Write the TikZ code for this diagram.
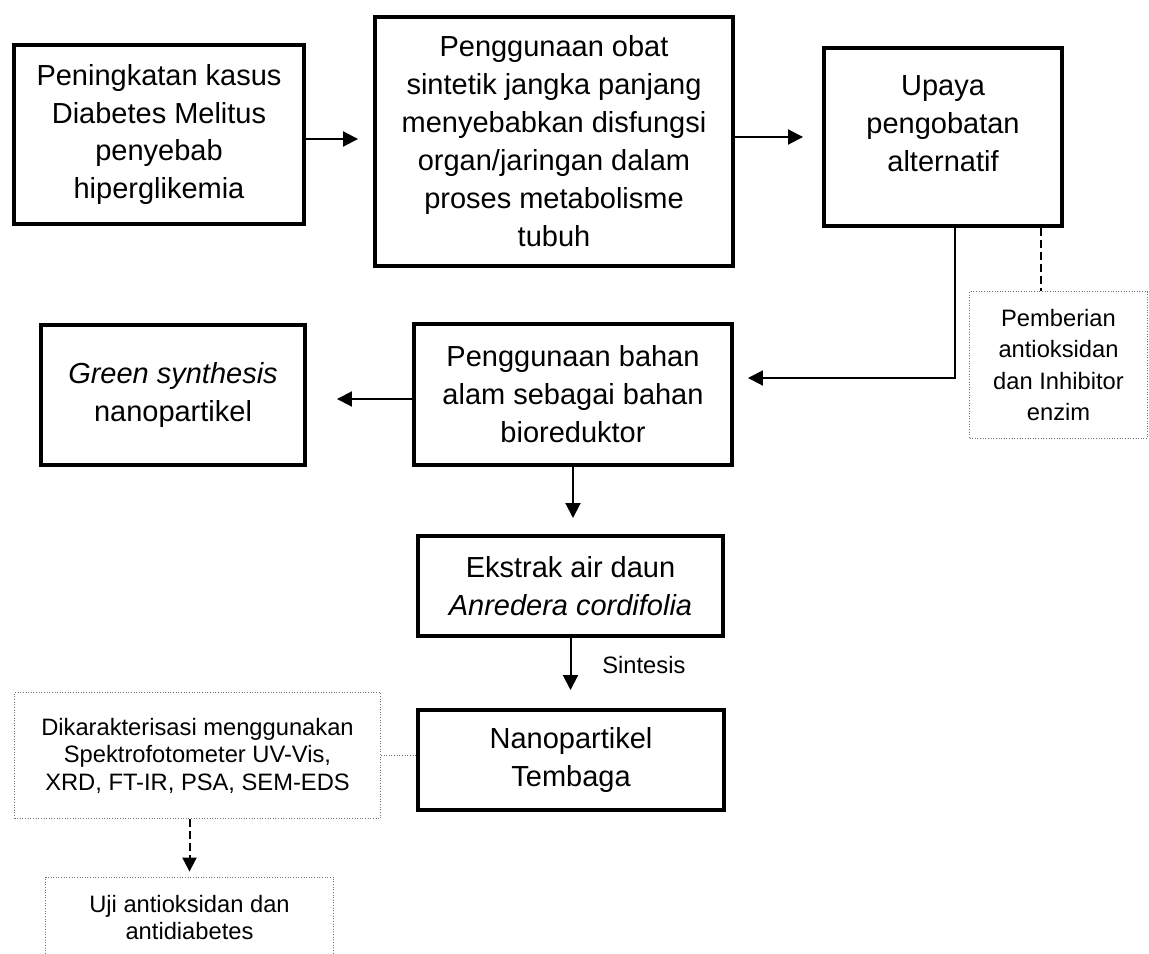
\documentclass[tikz,border=0pt]{standalone}
\usepackage{fontspec}
\setmainfont{Liberation Sans}
\usepackage{tikz}
\usetikzlibrary{arrows.meta}
\def\hurufbesar{\fontsize{16.5}{21.6}\selectfont}
\def\hurufkecil{\fontsize{13.5}{15.7}\selectfont}
\tikzset{
	kotak/.style={draw, line width=0.08cm, align=center, inner sep=0pt, font=\hurufbesar},
	kotaktitik/.style={draw=black!55, densely dotted, line width=0.5pt, align=center, inner sep=0pt, font=\hurufkecil},
	panah/.style={line width=0.04cm, -{Triangle[length=0.3cm, width=0.3cm]}},
	garisputus/.style={line width=0.04cm, dash pattern=on 0.16cm off 0.08cm},
	panahputus/.style={garisputus, -{Triangle[length=0.28cm, width=0.28cm]}},
}

\begin{document}
\begin{tikzpicture}[x=0.02cm, y=-0.02cm]
	\useasboundingbox (0, 0) rectangle (1149, 953);

	\node[kotak, minimum width=5.80cm, minimum height=3.58cm] (kasus) at (159, 134.5) {Peningkatan kasus\\Diabetes Melitus\\penyebab\\hiperglikemia};
	\node[kotak, minimum width=7.16cm, minimum height=4.98cm] (obat) at (554, 141.5) {Penggunaan obat\\sintetik jangka panjang\\menyebabkan disfungsi\\organ/jaringan dalam\\proses metabolisme\\tubuh};
	\node[kotak, minimum width=4.76cm, minimum height=3.56cm] (upaya) at (943, 137) {Upaya\\pengobatan\\alternatif\\[-0.22cm]\mbox{}};
	\node[kotaktitik, font=\fontsize{13.5}{18}\selectfont, minimum width=3.56cm, minimum height=2.94cm] (pemberian) at (1058.5, 365) {Pemberian\\antioksidan\\dan Inhibitor\\enzim};

	\node[kotak, minimum width=6.36cm, minimum height=2.82cm] (bahan) at (573, 394.5) {Penggunaan bahan\\alam sebagai bahan\\bioreduktor};
	\node[kotak, minimum width=5.28cm, minimum height=2.80cm] (green) at (173, 395) {\textit{Green synthesis}\\nanopartikel};
	\node[kotak, minimum width=6.10cm, minimum height=2.00cm] (ekstrak) at (570.5, 586) {Ekstrak air daun\\\textit{Anredera cordifolia}};
	\node[kotak, minimum width=6.12cm, minimum height=2.00cm] (nano) at (571, 760) {Nanopartikel\\Tembaga};

	\node[kotaktitik, minimum width=7.32cm, minimum height=2.52cm] (karakter) at (197.5, 755.5) {Dikarakterisasi menggunakan\\Spektrofotometer UV-Vis,\\XRD, FT-IR, PSA, SEM-EDS};
	\node[kotaktitik, minimum width=5.76cm, minimum height=1.62cm] (uji) at (189.5, 917.5) {Uji antioksidan dan\\antidiabetes};

	\coordinate (belok) at (955, 378);

	\draw[panah, shorten >=0.3cm] ([yshift=-0.09cm]kasus.east) -- ([yshift=-0.09cm]kasus.east -| obat.west);
	\draw[panah, shorten >=0.38cm] (obat.east |- upaya.west) -- (upaya.west);
	\draw[panah, shorten >=0.28cm] (belok |- upaya.south) -- (belok) -- (belok -| bahan.east);
	\draw[garisputus] ([xshift=-0.35cm]pemberian.north |- upaya.south) -- ([xshift=-0.35cm]pemberian.north);
	\draw[panah, shorten >=0.6cm] ([yshift=-0.09cm]bahan.west) -- ([yshift=-0.09cm]bahan.west -| green.east);
	\draw[panah, shorten >=0.32cm] (bahan.south) -- (bahan.south |- ekstrak.north);
	\draw[panah, shorten >=0.36cm] (ekstrak.south) -- (ekstrak.south |- nano.north) node[midway, anchor=west, xshift=0.5cm, yshift=0.16cm, font=\hurufkecil] {Sintesis};
	\draw[draw=black!55, densely dotted, line width=0.5pt] (karakter.east) -- (karakter.east -| nano.west);
	\draw[panahputus, shorten >=0.1cm] (uji.north |- karakter.south) -- (uji.north);
\end{tikzpicture}
\end{document}
